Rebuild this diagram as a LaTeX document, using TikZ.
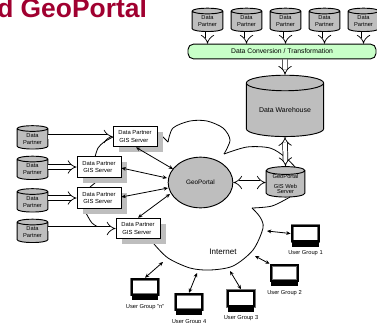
\documentclass[tikz,border=0pt]{standalone}
\usepackage{fontspec}
\setmainfont{Liberation Sans}
\usetikzlibrary{positioning,shapes.geometric,shadows,arrows.meta}
\definecolor{titlered}{HTML}{A00030}
\definecolor{bandgreen}{HTML}{C8FFC8}
\definecolor{partgray}{HTML}{BEBEBE}
\newcommand{\fs}[1]{\fontsize{#1}{#1}\selectfont}
\tikzset{
  barrel/.style={draw, line width=0.7pt, fill=partgray, cylinder, shape border rotate=90, shape aspect=0.3, inner sep=0pt, align=center},
  partner/.style={barrel, minimum width=23pt, minimum height=17.5pt, font=\fs{4.3}},
  server/.style={draw, line width=0.7pt, fill=white, minimum width=33pt, minimum height=15.5pt, inner sep=0pt, align=left, font=\fs{4.4}, drop shadow={shadow xshift=4.5pt, shadow yshift=-4.2pt, fill=partgray, opacity=1}},
  screen/.style={draw=black!55, double=black, double distance=1.7pt, line width=0.35pt, fill=white, minimum width=20pt, minimum height=11.5pt, inner sep=0pt, outer sep=1.2pt},
  keys/.style={fill=black, minimum width=20pt, minimum height=3.2pt, inner sep=0pt},
  grouplabel/.style={font=\fs{4.3}, inner sep=0pt},
  hollow/.style={double, double distance=3pt, line width=0.55pt, -{Implies}},
  hollowboth/.style={double, double distance=3pt, line width=0.55pt, {Implies}-{Implies}},
  link/.style={<->, >={Stealth[length=3.2pt,width=2.8pt]}, line width=0.6pt},
  cloudline/.style={line width=0.6pt}
}
\begin{document}
\begin{tikzpicture}[x=0.75pt, y=-0.75pt]
\useasboundingbox (0,0) rectangle (377,322);
\clip (0,0) rectangle (377,322);

% Title
\node[anchor=base west, inner sep=0pt, text=titlered, font=\bfseries\fs{19.8}] (title) at (-3,17) {d GeoPortal};

% Cloud
\draw[cloudline] plot[smooth] coordinates {(95,157) (98,148) (104,142) (113,137)};
\draw[cloudline] (90,187) -- (95,183);
\draw[cloudline] plot[smooth] coordinates {(86,213) (92,223) (100,228)};
\draw[cloudline] plot[smooth] coordinates {(154,244) (168,258) (190,268) (210,270) (233,266) (253,250) (263,228) (260,217) (252,208)};
\draw[cloudline] plot[smooth] coordinates {(252,208) (272,206) (290,197)};
\draw[cloudline] plot[smooth] coordinates {(224,154) (247,147) (270,148) (285,157) (296,168)};
\draw[cloudline] plot[smooth] coordinates {(224,154) (230,140) (223,128) (207,121) (190,121) (173,128) (168,142)};
\draw[cloudline] (160,134) -- (168,142);

% Top row
\node[partner] (top1) at (207.5,21.5) {Data\\[1pt]Partner};
\node[partner] (top2) at (246.5,21.5) {Data\\[1pt]Partner};
\node[partner] (top3) at (285.5,21.5) {Data\\[1pt]Partner};
\node[partner] (top4) at (324.5,21.5) {Data\\[1pt]Partner};
\node[partner] (top5) at (363.5,21.5) {Data\\[1pt]Partner};
\node[draw, line width=0.7pt, fill=bandgreen, rounded corners=4pt, minimum width=141pt, minimum height=11pt, inner sep=0pt, font=\fs{5.1}] (band) at (282,51.5) {Data Conversion / Transformation};
\node[barrel, minimum width=58pt, minimum height=46pt, font=\fs{5.2}] (whouse) at (285,110) {Data Warehouse};
\node[barrel, minimum width=29pt, minimum height=22.5pt, font=\fs{4.3}] (webgis) at (285.5,184) {GeoPortal\\[3pt]GIS Web\\[-1pt]Server};
\node[ellipse, draw, line width=0.7pt, fill=partgray, minimum width=48.5pt, minimum height=38pt, inner sep=0pt, font=\fs{4.8}] (portal) at (200.5,182.5) {GeoPortal};

% Left column
\node[partner] (left1) at (32.5,139) {Data\\[1pt]Partner};
\node[partner] (left2) at (32.5,169.5) {Data\\[1pt]Partner};
\node[partner] (left3) at (32.5,202) {Data\\[1pt]Partner};
\node[partner] (left4) at (32.5,232.5) {Data\\[1pt]Partner};
\node[server] (srv1) at (135,136.5) {Data Partner\\[1pt]\,GIS Server};
\node[server] (srv2) at (99,167) {Data Partner\\[1pt]\,GIS Server};
\node[server] (srv3) at (99,198) {Data Partner\\[1pt]\,GIS Server};
\node[server] (srv4) at (138,228.5) {Data Partner\\[1pt]\,GIS Server};

% Setas
\foreach \i in {1,...,5} {
  \draw[hollow] (top\i.south) -- (top\i.south |- band.north);
}
\draw[hollow] (band.south -| whouse) -- (whouse.north);
\draw[hollowboth] (whouse.south) -- (webgis.north);
\draw[hollowboth] (portal.east) -- (portal.east -| webgis.west);
\foreach \i in {1,...,4} {
  \draw[hollow] (left\i.east |- srv\i.west) -- (srv\i.west);
}
\draw[link] (srv1.south) ++(1,0) -- (173,169);
\draw[link] (srv2.east) ++(0,1) -- (167,178);
\draw[link] (srv3.east) ++(0,-1) -- (168,188);
\draw[link] (srv4.north) -- (170,194);

% User groups
\foreach \nm/\px/\py/\txt in {ug1/305.5/233.5/User Group 1, ug2/284.5/273/User Group 2, ug3/241/298.5/User Group 3, ug4/189/302/User Group 4, ugn/145/287/User Group "n"} {
  \node[screen] (\nm) at (\px,\py) {};
  \node[keys, below=-0.6pt of \nm] (\nm k) {};
  \node[grouplabel, below=2.8pt of \nm k] (\nm t) {\txt};
}
\coordinate (c1) at (267,231);
\coordinate (c2) at (255,256);
\coordinate (c3) at (230,271);
\coordinate (c4) at (197,273);
\coordinate (cn) at (163,262);
\draw[link] (ug1.west) -- (c1);
\draw[link] (ug2.north west) -- (c2);
\draw[link] (ug3.north) -- (c3);
\draw[link] (ug4.north) -- (c4);
\draw[link] (ugn.north) -- (cn);
\node[font=\fs{6}, inner sep=0pt] (inet) at (223,252) {Internet};
\end{tikzpicture}
\end{document}
